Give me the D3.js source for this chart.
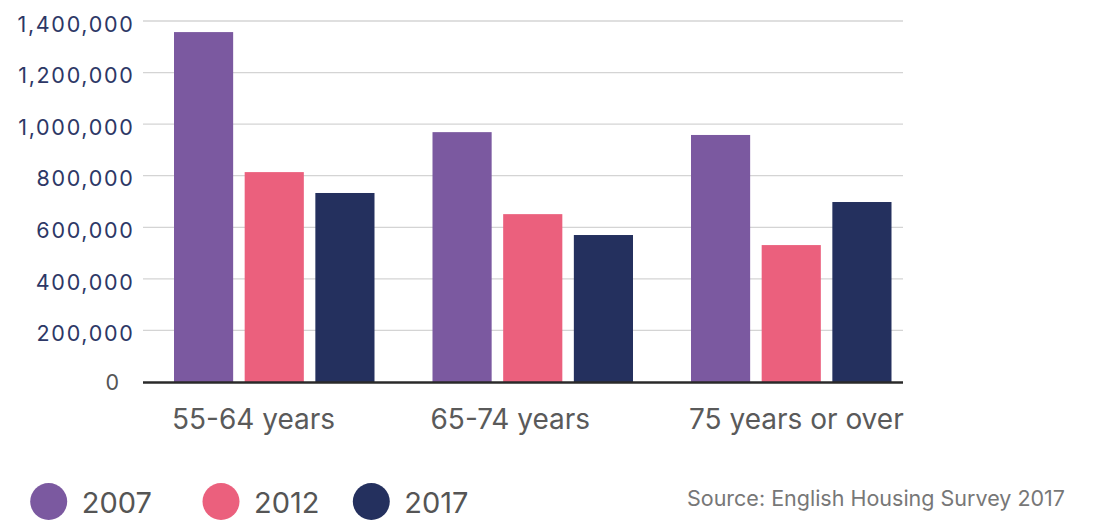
<!DOCTYPE html>
<html><head><meta charset="utf-8">
<script src="https://cdn.jsdelivr.net/npm/d3@7/dist/d3.min.js"></script>
<style>
body{margin:0;background:#fff;}
svg text{font-family:Inter, Lato, sans-serif;}
</style></head>
<body><svg id="c" width="1094" height="521"></svg>
<script>
const categories = ["55-64 years", "65-74 years", "75 years or over"];
const seriesNames = ["2007", "2012", "2017"];
const values2007 = [1357000, 969000, 958000];
const values2012 = [814000, 651000, 531000];
const values2017 = [733000, 570000, 698000];
const yTicks = [0, 200000, 400000, 600000, 800000, 1000000, 1200000, 1400000];
const colors = ["#7B59A0", "#EB607D", "#24305E"];
const sourceText = "Source: English Housing Survey 2017";

const series = [values2007, values2012, values2017];
const svg = d3.select("#c");

const y = d3.scaleLinear().domain([0, 1400000]).range([382, 21]);
const x0 = d3.scaleBand().domain(categories).range([174, 174 + 3 * 258.5]).paddingInner(0).paddingOuter(0);
const x1 = d3.scaleBand().domain(seriesNames).range([0, 200.5]).paddingInner(0.163).paddingOuter(0);

// gridlines
svg.append("g").selectAll("line").data(yTicks.slice(1)).join("line")
  .attr("x1", 143).attr("x2", 903)
  .attr("y1", d => y(d)).attr("y2", d => y(d))
  .attr("stroke", "#d4d4d4").attr("stroke-width", 1.3);

// y labels
const fmt = d3.format(",");
svg.append("g").selectAll("text").data(yTicks).join("text")
  .attr("x", d => d === 0 ? 119 : 134.5)
  .attr("y", d => y(d) + (d === 0 ? 0 : 3))
  .attr("dy", "0.36em")
  .attr("text-anchor", "end")
  .attr("font-size", 21.5)
  .attr("letter-spacing", d => d === 0 ? 0 : 1.7)
  .attr("fill", d => d === 0 ? "#555" : "#2d3766")
  .text(d => fmt(d));

// bars
const groups = svg.append("g").selectAll("g").data(categories).join("g")
  .attr("transform", d => `translate(${x0(d)},0)`);
groups.selectAll("rect").data((c, i) => seriesNames.map((s, j) => ({s, j, v: series[j][i]})))
  .join("rect")
  .attr("x", d => x1(d.s))
  .attr("width", x1.bandwidth())
  .attr("y", d => y(d.v))
  .attr("height", d => y(0) - y(d.v))
  .attr("fill", d => colors[d.j]);

// axis line
svg.append("line").attr("x1", 143).attr("x2", 903).attr("y1", 382.5).attr("y2", 382.5)
  .attr("stroke", "#2a2a2a").attr("stroke-width", 2.5);

// category labels
svg.append("g").selectAll("text").data(categories).join("text")
  .attr("x", d => x0(d) - 2)
  .attr("y", 429)
  .attr("font-size", 28)
  .attr("fill", "#5a5a5a")
  .text(d => d);

// legend
const legX = [48.7, 221, 371.3];
const leg = svg.append("g").selectAll("g").data(seriesNames).join("g")
  .attr("transform", (d, i) => `translate(${legX[i]},501.5)`);
leg.append("circle").attr("r", 18.5).attr("fill", (d, i) => colors[i]);
leg.append("text").attr("x", 33).attr("y", 11.5).attr("font-size", 29)
  .attr("fill", "#555").text(d => d);

// source
svg.append("text").attr("x", 1065).attr("y", 506).attr("text-anchor", "end")
  .attr("font-size", 21.5).attr("fill", "#777").text(sourceText);
</script></body></html>
